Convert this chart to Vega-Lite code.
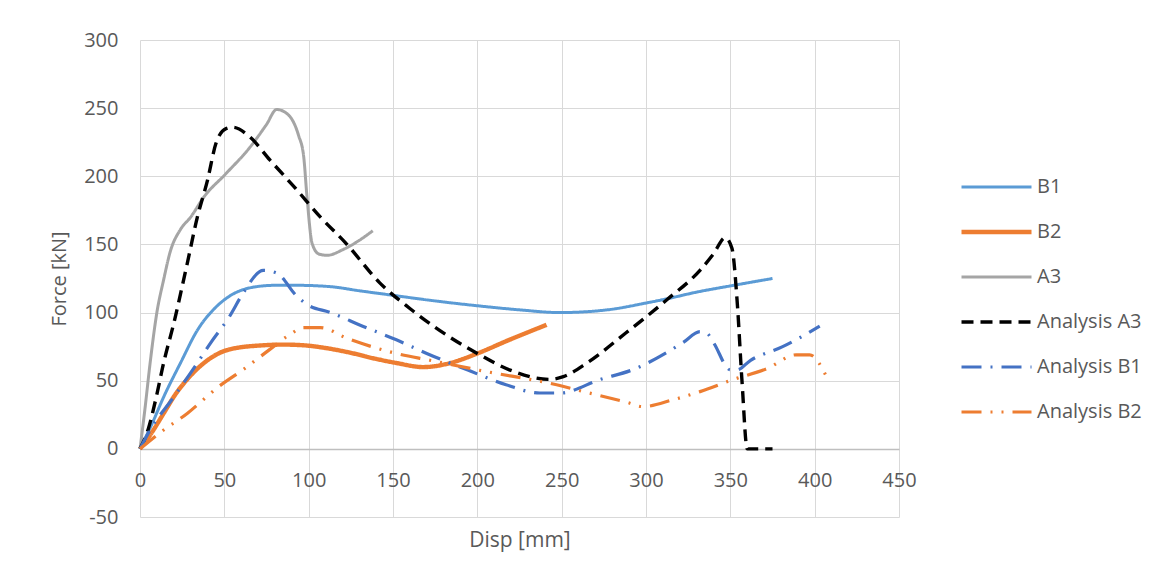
{
  "$schema": "https://vega.github.io/schema/vega-lite/v6.json",
  "width": 759,
  "height": 477,
  "autosize": {"type": "none"},
  "padding": {"left": 140, "top": 40, "right": 266, "bottom": 64},
  "background": "white",
  "config": {
    "view": {"stroke": null},
    "font": "Open Sans",
    "axis": {"labelColor": "#595959", "titleColor": "#595959", "gridColor": "#D9D9D9", "gridWidth": 1, "tickSize": 0, "labelFont": "Open Sans", "titleFont": "Open Sans", "titleFontWeight": "normal"},
    "legend": {"labelColor": "#595959", "labelFont": "Open Sans", "labelFontSize": 20}
  },
  "data": {"values": [
    {"s":"B1","x":0,"y":0},{"s":"B1","x":7,"y":18},{"s":"B1","x":14,"y":38},{"s":"B1","x":24,"y":63},{"s":"B1","x":34,"y":87},{"s":"B1","x":45,"y":104},{"s":"B1","x":53,"y":112},{"s":"B1","x":69,"y":119},{"s":"B1","x":80,"y":120},{"s":"B1","x":93,"y":120},{"s":"B1","x":113,"y":119},{"s":"B1","x":130,"y":116},{"s":"B1","x":148,"y":113},{"s":"B1","x":172,"y":109},{"s":"B1","x":200,"y":105},{"s":"B1","x":225,"y":102},{"s":"B1","x":249,"y":100},{"s":"B1","x":277,"y":102},{"s":"B1","x":300,"y":107},{"s":"B1","x":312,"y":110},{"s":"B1","x":330,"y":115},{"s":"B1","x":352,"y":120},{"s":"B1","x":375,"y":125},
    {"s":"B2","x":0,"y":0},{"s":"B2","x":7,"y":12},{"s":"B2","x":14,"y":26},{"s":"B2","x":21,"y":40},{"s":"B2","x":28,"y":51},{"s":"B2","x":40,"y":65},{"s":"B2","x":53,"y":73},{"s":"B2","x":73,"y":76},{"s":"B2","x":85,"y":76.5},{"s":"B2","x":97,"y":76},{"s":"B2","x":110,"y":74},{"s":"B2","x":123,"y":71},{"s":"B2","x":140,"y":66},{"s":"B2","x":152,"y":63},{"s":"B2","x":168,"y":60},{"s":"B2","x":184,"y":63},{"s":"B2","x":200,"y":70},{"s":"B2","x":219,"y":80},{"s":"B2","x":241,"y":91},
    {"s":"A3","x":0,"y":0},{"s":"A3","x":3,"y":30},{"s":"A3","x":6,"y":63},{"s":"A3","x":10,"y":100},{"s":"A3","x":14,"y":124},{"s":"A3","x":18,"y":145},{"s":"A3","x":24,"y":161},{"s":"A3","x":30,"y":170},{"s":"A3","x":38,"y":185},{"s":"A3","x":51,"y":202},{"s":"A3","x":65,"y":221},{"s":"A3","x":75,"y":238},{"s":"A3","x":81,"y":249},{"s":"A3","x":88,"y":245},{"s":"A3","x":94,"y":230},{"s":"A3","x":97,"y":215},{"s":"A3","x":99,"y":185},{"s":"A3","x":102,"y":151},{"s":"A3","x":106,"y":143},{"s":"A3","x":111,"y":142},{"s":"A3","x":120,"y":146},{"s":"A3","x":130,"y":153},{"s":"A3","x":138,"y":160},
    {"s":"Analysis A3","x":0,"y":0},{"s":"Analysis A3","x":5,"y":15},{"s":"Analysis A3","x":10,"y":40},{"s":"Analysis A3","x":14,"y":63},{"s":"Analysis A3","x":20,"y":92},{"s":"Analysis A3","x":28,"y":136},{"s":"Analysis A3","x":34,"y":170},{"s":"Analysis A3","x":40,"y":197},{"s":"Analysis A3","x":45,"y":224},{"s":"Analysis A3","x":51,"y":235},{"s":"Analysis A3","x":55,"y":236},{"s":"Analysis A3","x":65,"y":229},{"s":"Analysis A3","x":77,"y":212},{"s":"Analysis A3","x":93,"y":190},{"s":"Analysis A3","x":107,"y":170},{"s":"Analysis A3","x":122,"y":151},{"s":"Analysis A3","x":142,"y":122},{"s":"Analysis A3","x":160,"y":103},{"s":"Analysis A3","x":174,"y":90},{"s":"Analysis A3","x":200,"y":70},{"s":"Analysis A3","x":219,"y":58},{"s":"Analysis A3","x":243,"y":51},{"s":"Analysis A3","x":251,"y":53},{"s":"Analysis A3","x":265,"y":63},{"s":"Analysis A3","x":288,"y":85},{"s":"Analysis A3","x":312,"y":109},{"s":"Analysis A3","x":332,"y":131},{"s":"Analysis A3","x":340,"y":143},{"s":"Analysis A3","x":347,"y":155},{"s":"Analysis A3","x":351,"y":147},{"s":"Analysis A3","x":354,"y":109},{"s":"Analysis A3","x":357,"y":48},{"s":"Analysis A3","x":360,"y":0},{"s":"Analysis A3","x":375,"y":0},
    {"s":"Analysis B1","x":0,"y":0},{"s":"Analysis B1","x":6,"y":14},{"s":"Analysis B1","x":20,"y":38},{"s":"Analysis B1","x":34,"y":63},{"s":"Analysis B1","x":42,"y":78},{"s":"Analysis B1","x":53,"y":97},{"s":"Analysis B1","x":61,"y":114},{"s":"Analysis B1","x":73,"y":131},{"s":"Analysis B1","x":81,"y":129},{"s":"Analysis B1","x":93,"y":112},{"s":"Analysis B1","x":99,"y":106},{"s":"Analysis B1","x":113,"y":100},{"s":"Analysis B1","x":132,"y":90},{"s":"Analysis B1","x":152,"y":80},{"s":"Analysis B1","x":170,"y":70},{"s":"Analysis B1","x":194,"y":58},{"s":"Analysis B1","x":217,"y":47},{"s":"Analysis B1","x":237,"y":41},{"s":"Analysis B1","x":249,"y":41},{"s":"Analysis B1","x":273,"y":51},{"s":"Analysis B1","x":292,"y":58},{"s":"Analysis B1","x":322,"y":78},{"s":"Analysis B1","x":332,"y":86},{"s":"Analysis B1","x":336,"y":85},{"s":"Analysis B1","x":340,"y":78},{"s":"Analysis B1","x":350,"y":58},{"s":"Analysis B1","x":354,"y":58},{"s":"Analysis B1","x":362,"y":65},{"s":"Analysis B1","x":381,"y":75},{"s":"Analysis B1","x":403,"y":90},
    {"s":"Analysis B2","x":0,"y":0},{"s":"Analysis B2","x":12,"y":12},{"s":"Analysis B2","x":28,"y":26},{"s":"Analysis B2","x":47,"y":46},{"s":"Analysis B2","x":61,"y":58},{"s":"Analysis B2","x":77,"y":73},{"s":"Analysis B2","x":89,"y":84},{"s":"Analysis B2","x":97,"y":89},{"s":"Analysis B2","x":107,"y":89},{"s":"Analysis B2","x":123,"y":81},{"s":"Analysis B2","x":152,"y":70},{"s":"Analysis B2","x":172,"y":65},{"s":"Analysis B2","x":204,"y":57},{"s":"Analysis B2","x":247,"y":47},{"s":"Analysis B2","x":263,"y":42},{"s":"Analysis B2","x":289,"y":34},{"s":"Analysis B2","x":298,"y":31},{"s":"Analysis B2","x":316,"y":36},{"s":"Analysis B2","x":332,"y":42},{"s":"Analysis B2","x":352,"y":51},{"s":"Analysis B2","x":372,"y":59},{"s":"Analysis B2","x":389,"y":69},{"s":"Analysis B2","x":397,"y":69},{"s":"Analysis B2","x":407,"y":53}
  ]},
  "mark": {"type": "line", "interpolate": "monotone"},
  "encoding": {
    "x": {
      "field": "x", "type": "quantitative",
      "scale": {"domain": [0, 450], "nice": false},
      "axis": {"values": [0,50,100,150,200,250,300,350,400,450], "title": "Disp [mm]", "offset": -68, "labelFontSize": 20, "titleFontSize": 21, "labelPadding": 21, "titlePadding": 39, "domainColor": "#BFBFBF", "domainWidth": 1.3, "labelFlush": false}
    },
    "y": {
      "field": "y", "type": "quantitative",
      "scale": {"domain": [-50, 300], "nice": false, "zero": false},
      "axis": {"values": [-50,0,50,100,150,200,250,300], "labelExpr": "replace(datum.label, '\u2212', '-')", "title": "Force [kN]", "domain": false, "labelFontSize": 20, "titleFontSize": 20, "labelPadding": 22, "titlePadding": 14}
    },
    "color": {
      "field": "s", "type": "nominal",
      "scale": {"domain": ["B1","B2","A3","Analysis A3","Analysis B1","Analysis B2"], "range": ["#5B9BD5","#ED7D31","#A5A5A5","#000000","#4472C4","#ED7D31"]},
      "legend": {"title": null, "orient": "none", "legendX": 819, "legendY": 136, "symbolType": "stroke", "symbolSize": 4900, "clipHeight": 22, "rowPadding": 23, "labelOffset": 3, "labelFontSize": 20}
    },
    "strokeDash": {
      "field": "s", "type": "nominal",
      "scale": {"domain": ["B1","B2","A3","Analysis A3","Analysis B1","Analysis B2"], "range": [[1,0],[1,0],[1,0],[12,7],[20,9,2,9],[20,9,2,9,2,9]]},
      "legend": {"title": null, "orient": "none", "legendX": 819, "legendY": 136, "symbolType": "stroke", "symbolSize": 4900, "clipHeight": 22, "rowPadding": 23, "labelOffset": 3, "labelFontSize": 20}
    },
    "strokeWidth": {
      "field": "s", "type": "ordinal",
      "scale": {"type": "ordinal", "domain": ["B1","B2","A3","Analysis A3","Analysis B1","Analysis B2"], "range": [3,4.4,3,3.4,3.2,3.2]},
      "legend": {"title": null, "orient": "none", "legendX": 819, "legendY": 136, "symbolType": "stroke", "symbolSize": 4900, "clipHeight": 22, "rowPadding": 23, "labelOffset": 3, "labelFontSize": 20}
    }
  }
}
